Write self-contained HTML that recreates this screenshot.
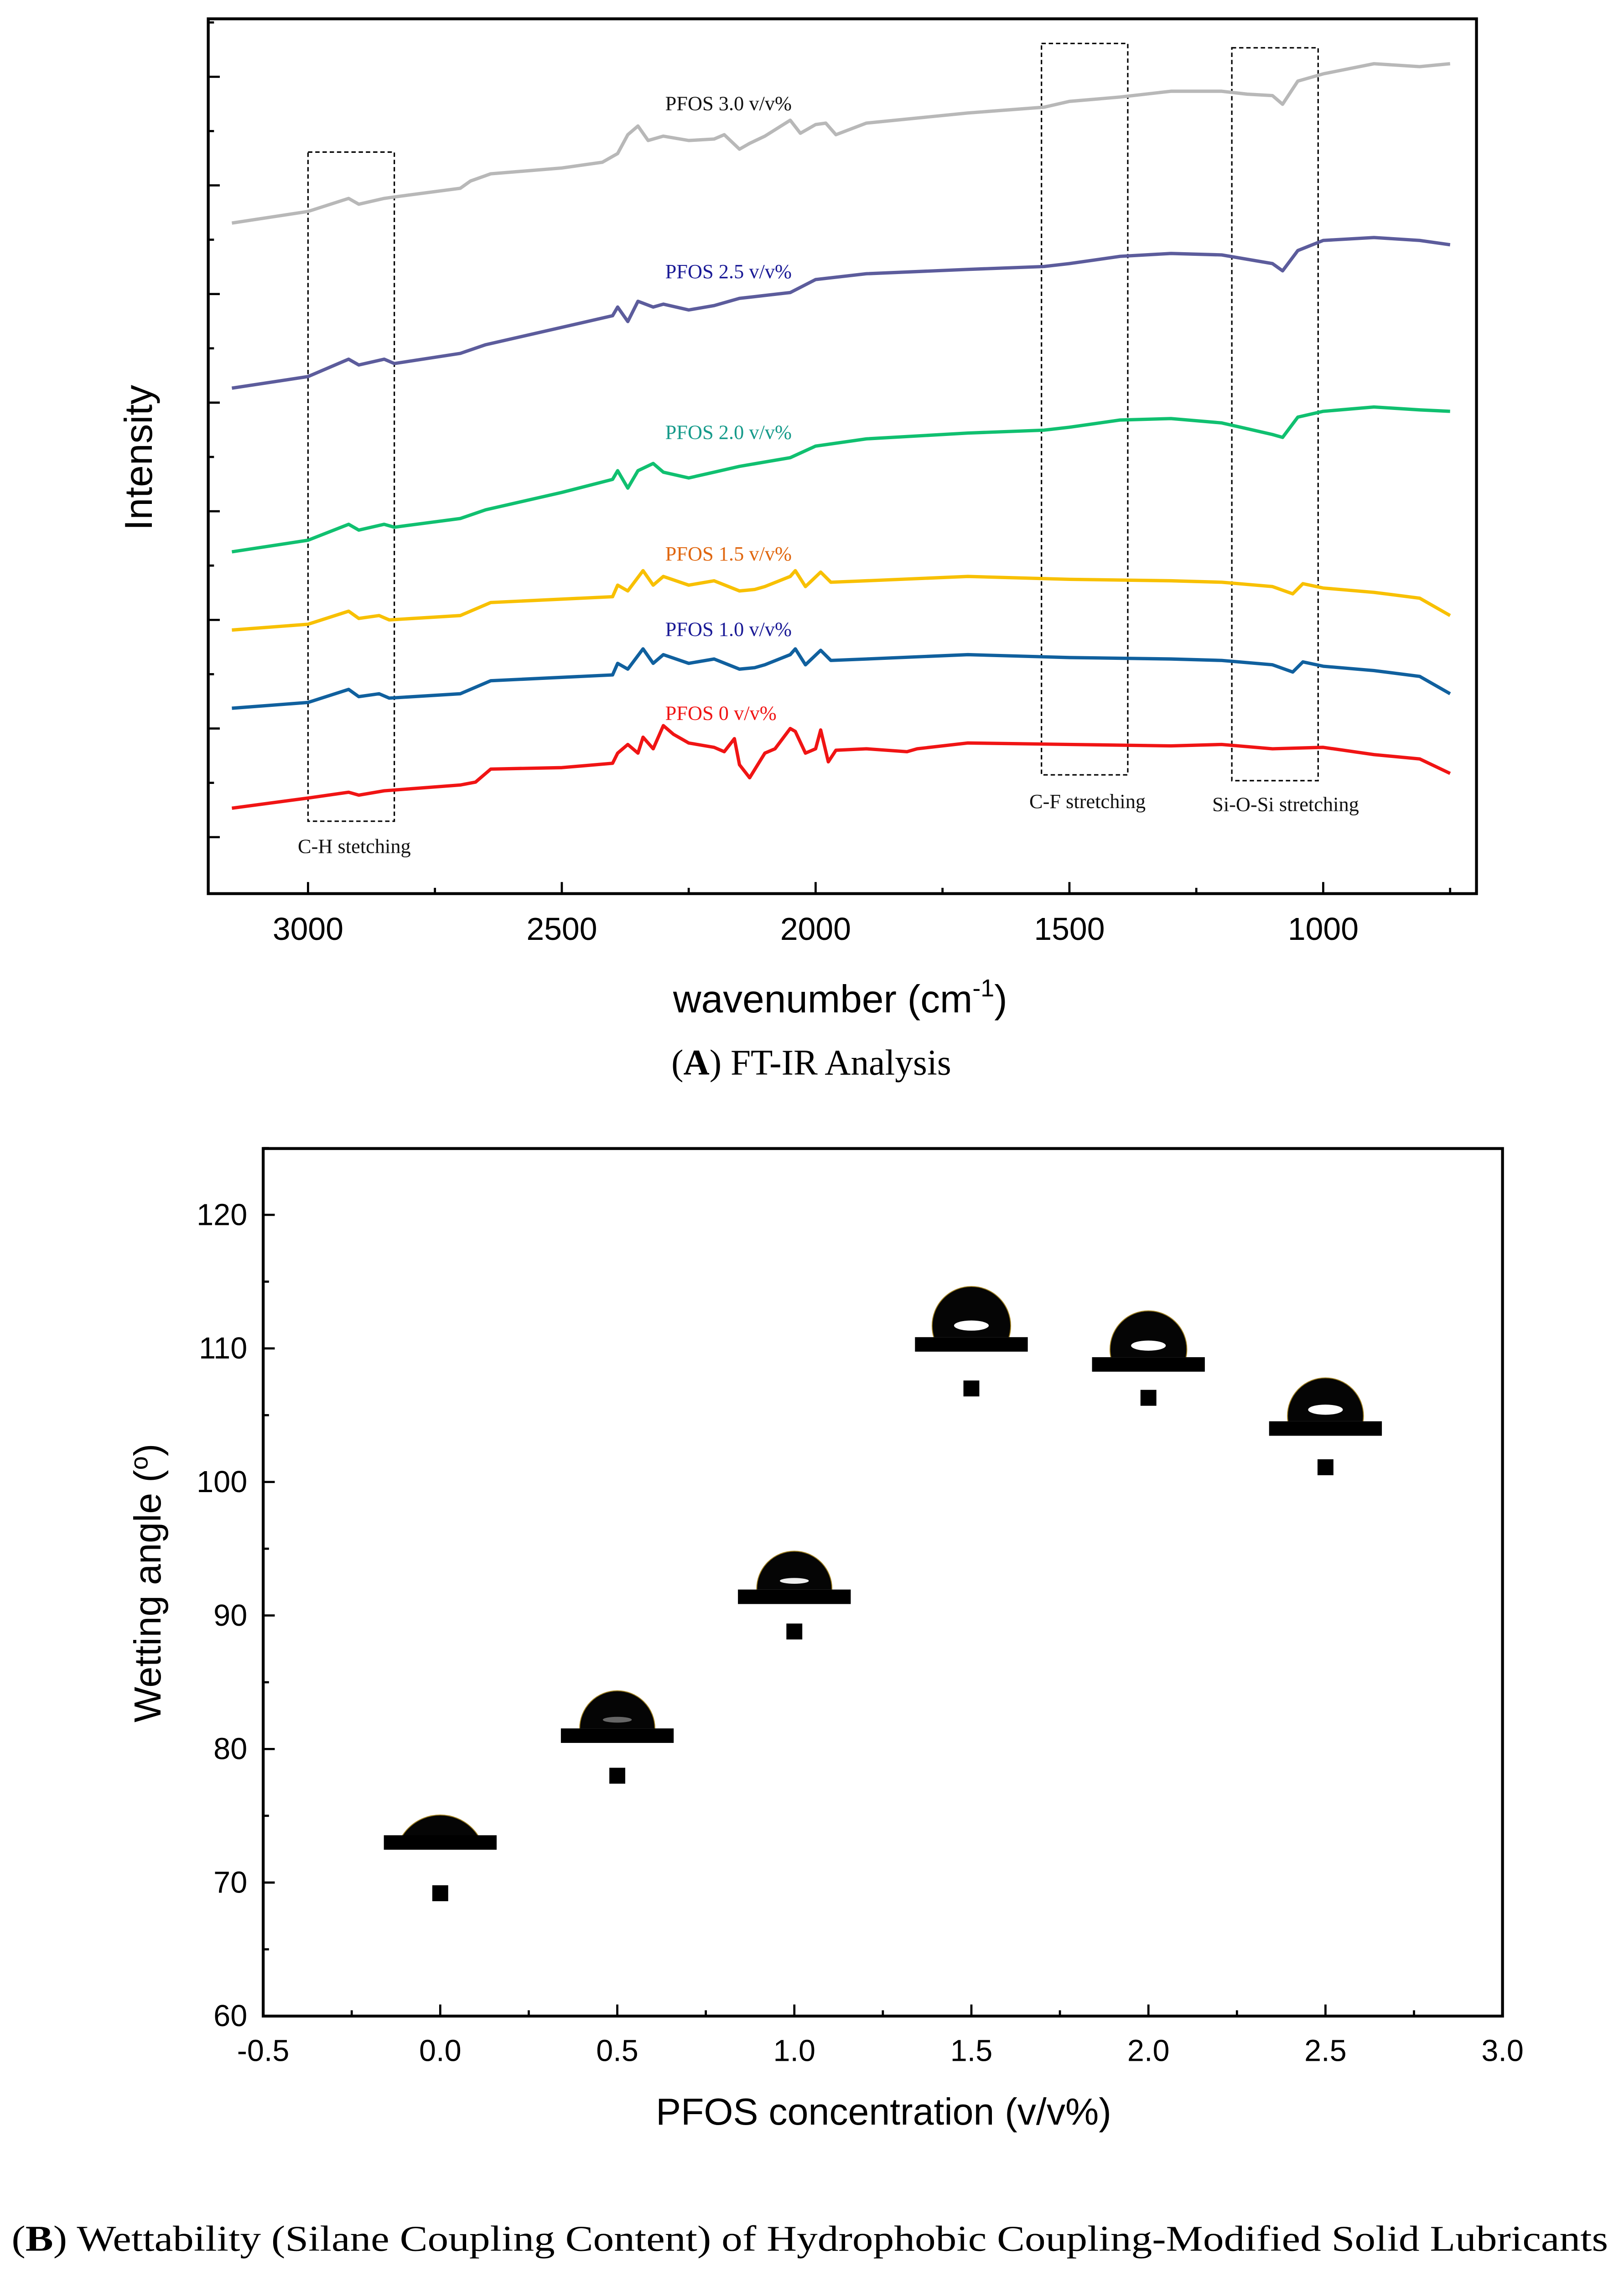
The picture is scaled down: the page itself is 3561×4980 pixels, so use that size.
<!DOCTYPE html>
<html><head><meta charset="utf-8"><style>
html,body{margin:0;padding:0;background:#fff;}
svg{display:block;}
</style></head><body>
<svg id="fig" width="3561" height="4980" viewBox="0 0 1123 1568" preserveAspectRatio="none" xmlns="http://www.w3.org/2000/svg">
<rect x="0" y="0" width="1123" height="1568" fill="#fff"/>
<g id="chartA"></g>
<g id="chartB"></g>
</svg>
<script>
// ---------- Chart A data (FT-IR) ----------
const xTicksA = [3000, 2500, 2000, 1500, 1000];
const xMinorA = [2750, 2250, 1750, 1250, 750];
const yTicksA = [42, 117, 192, 267, 342, 417, 492, 567];
const xRed = [3150,3000,2920,2900,2850,2700,2670,2640,2500,2400,2390,2370,2350,2340,2320,2300,2280,2250,2200,2180,2160,2150,2130,2100,2080,2050,2040,2020,2000,1990,1975,1960,1900,1820,1800,1700,1500,1300,1200,1100,1000,900,810,750];
const yRed = [62,69,73,71,74,78,80,89,90,93,100,106,100,111,103,119,113,107,104,101,110,92,83,100,103,117,115,100,103,116,94,102,103,101,103,107,106,105,106,103,104,99,96,86];
const xBlue = [3150,3000,2920,2900,2860,2840,2700,2640,2400,2390,2370,2340,2320,2300,2250,2200,2150,2120,2100,2050,2040,2020,1990,1970,1900,1700,1500,1300,1200,1100,1060,1040,1000,900,810,750];
const yBlue = [131,135,144,139,141,138,141,150,154,162,158,172,162,168,162,165,158,159,161,168,172,161,171,164,165,168,166,165,164,161,156,163,160,157,153,141];
const xYellow = [3150,3000,2920,2900,2860,2840,2700,2640,2400,2390,2370,2340,2320,2300,2250,2200,2150,2120,2100,2050,2040,2020,1990,1970,1900,1700,1500,1300,1200,1100,1060,1040,1000,900,810,750];
const yYellow = [185,189,198,193,195,192,195,204,208,216,212,226,216,222,216,219,212,213,215,222,226,215,225,218,219,222,220,219,218,215,210,217,214,211,207,195];
const xGreen = [3150,3000,2920,2900,2850,2830,2700,2650,2500,2400,2390,2370,2350,2320,2300,2250,2200,2150,2100,2050,2000,1900,1700,1550,1500,1400,1300,1200,1150,1100,1080,1050,1000,900,810,750];
const yGreen = [239,247,258,254,258,256,262,268,280,289,295,283,295,300,294,290,294,298,301,304,312,317,321,323,325,330,331,328,324,320,318,332,336,339,337,336];
const xPurple = [3150,3000,2920,2900,2850,2830,2700,2650,2500,2400,2390,2370,2350,2320,2300,2250,2200,2150,2100,2050,2000,1900,1700,1550,1500,1400,1300,1200,1150,1100,1080,1050,1000,900,810,750];
const yPurple = [352,360,372,368,372,369,376,382,394,402,408,398,412,408,410,406,409,414,416,418,427,431,434,436,438,443,445,444,441,438,433,447,454,456,454,451];
const xGray = [3150,3000,2920,2900,2850,2830,2700,2680,2640,2500,2420,2390,2370,2350,2330,2300,2250,2200,2180,2150,2130,2100,2050,2030,2000,1980,1960,1900,1700,1550,1500,1400,1300,1200,1150,1100,1080,1050,1000,900,810,750];
const yGray = [466,474,483,479,483,484,490,495,500,504,508,514,527,533,523,526,523,524,527,517,521,526,537,528,534,535,527,535,542,546,550,553,557,557,555,554,548,564,569,576,574,576];
const seriesLabels = ["PFOS 0 v/v%","PFOS 1.0 v/v%","PFOS 1.5 v/v%","PFOS 2.0 v/v%","PFOS 2.5 v/v%","PFOS 3.0 v/v%"];

// ---------- Chart B data (wetting angle) ----------
const concentrations = [0.0, 0.5, 1.0, 1.5, 2.0, 2.5];
const wettingAngles = [69.2, 78.0, 88.8, 107.0, 106.3, 101.1];
const xTicksB = [-0.5, 0.0, 0.5, 1.0, 1.5, 2.0, 2.5, 3.0];
const xTickLabelsB = ["-0.5","0.0","0.5","1.0","1.5","2.0","2.5","3.0"];
const yTicksB = [60, 70, 80, 90, 100, 110, 120];
const dropBarLevel = [73.0, 81.0, 91.4, 110.3, 108.8, 104.0];

const NS = "http://www.w3.org/2000/svg";
function mk(parent, tag, attrs, text){
  const e = document.createElementNS(NS, tag);
  for (const k in attrs) e.setAttribute(k, attrs[k]);
  if (text !== undefined) e.textContent = text;
  parent.appendChild(e);
  return e;
}
const SANS = '"Liberation Sans", Arial, sans-serif';
const SERIF = '"Liberation Serif", "Times New Roman", serif';

// ===== Chart A =====
const A = document.getElementById('chartA');
const AL = 144, AR = 1021, AT = 13, AB = 617;
function xA(w){ return 213 + (3000 - w) / 500 * 175.5; }
function yA(v){ return 620 - v; }

const boxes = [[3000,2830,105,567],[1555,1385,30,535],[1180,1010,33,539]];
const boxNames = ['ch-stretch-box','cf-stretch-box','siosi-stretch-box'];
boxes.forEach((b,i)=>{
  const r = mk(A,'rect',{x:xA(b[0]),y:b[2],width:xA(b[1])-xA(b[0]),height:b[3]-b[2],fill:'none',stroke:'#000','stroke-width':1,'stroke-dasharray':'3,2'});
  
  
});

const series = [
  [xRed,yRed,'#f01414','series-pfos-0'],
  [xBlue,yBlue,'#10609e','series-pfos-1-0'],
  [xYellow,yYellow,'#f8c000','series-pfos-1-5'],
  [xGreen,yGreen,'#10c070','series-pfos-2-0'],
  [xPurple,yPurple,'#5c5c9c','series-pfos-2-5'],
  [xGray,yGray,'#b8b8b8','series-pfos-3-0']
];
series.forEach(s=>{
  let d = '';
  s[0].forEach((w,i)=>{ d += (i?'L':'M') + xA(w).toFixed(2) + ' ' + yA(s[1][i]).toFixed(2); });
  const p = mk(A,'path',{d:d,fill:'none',stroke:s[2],'stroke-width':2.3,'stroke-linejoin':'round'});
  
  
});

const labelY = [497, 439, 387, 303, 192, 76];
const labelColors = ['#f01414','#1a1a96','#e0660e','#159a8a','#1a1a96','#111'];
seriesLabels.forEach((t,i)=>{
  const e = mk(A,'text',{x:460,y:labelY[i],'font-family':SERIF,'font-size':14,fill:labelColors[i]},t);
  
  
});
const notes = [['C-H stetching',245,589],['C-F stretching',752,558],['Si-O-Si stretching',889,560]];
notes.forEach(n=>{
  const e = mk(A,'text',{x:n[1],y:n[2],'font-family':SERIF,'font-size':14,'text-anchor':'middle',fill:'#111'},n[0]);
  
  
});

const fa = mk(A,'rect',{x:AL,y:AT,width:AR-AL,height:AB-AT,fill:'none',stroke:'#000','stroke-width':2});


xTicksA.forEach(w=>{
  const x = xA(w);
  mk(A,'line',{x1:x,y1:AB,x2:x,y2:AB-8,stroke:'#000','stroke-width':1.5});
  const t = mk(A,'text',{x:x,y:649,'font-family':SANS,'font-size':22,'text-anchor':'middle',fill:'#000'},String(w));
  
  
});
xMinorA.forEach(w=>{ const x = xA(w); mk(A,'line',{x1:x,y1:AB,x2:x,y2:AB-4,stroke:'#000','stroke-width':1.5}); });
yTicksA.forEach(v=>{
  const y = yA(v);
  mk(A,'line',{x1:AL,y1:y,x2:AL+8,y2:y,stroke:'#000','stroke-width':1.5});
  mk(A,'line',{x1:AL,y1:y-37.5,x2:AL+4,y2:y-37.5,stroke:'#000','stroke-width':1.5});
});
const yta = mk(A,'text',{x:0,y:0,transform:'translate(105,316) rotate(-90)','font-family':SANS,'font-size':27,'text-anchor':'middle',fill:'#000'},'Intensity');


const xta = mk(A,'text',{x:581,y:699,'font-family':SANS,'font-size':27,'text-anchor':'middle',fill:'#000'});


mk(xta,'tspan',{},'wavenumber (cm');
mk(xta,'tspan',{'font-size':17,dy:-11},'-1');
mk(xta,'tspan',{dy:11},')');
const capA = mk(A,'text',{x:561,y:742,'font-family':SERIF,'font-size':25,'text-anchor':'middle',fill:'#000'});


mk(capA,'tspan',{},'(');
mk(capA,'tspan',{'font-weight':'bold'},'A');
mk(capA,'tspan',{},') FT-IR Analysis');

// ===== Chart B =====
const B = document.getElementById('chartB');
const BL = 182, BR = 1039, BT = 793, BB = 1392;
function xB(c){ return BL + (c + 0.5) / 3.5 * (BR - BL); }
function yB(a){ return BB - (a - 60) * 9.22; }

const defs = mk(B,'defs',{});
concentrations.forEach((c,i)=>{
  const cx = xB(c), barY = yB(dropBarLevel[i]);
  const barTop = barY - 5;
  const h = [14, 26, 26.5, 35, 32, 30][i];
  const b = 26;
  const R = (b*b + h*h) / (2*h);
  const cy = barTop - h + R;
  const clip = mk(defs,'clipPath',{id:'clip'+i});
  mk(clip,'rect',{x:cx-60,y:barTop-60,width:120,height:60});
  const g = mk(B,'g',{});
  
  
  mk(g,'circle',{cx:cx,cy:cy,r:R,fill:'#050505',stroke:'#a08020','stroke-width':0.6,'clip-path':'url(#clip'+i+')'});
  mk(g,'rect',{x:cx-39,y:barTop,width:78,height:10,fill:'#000'});
  if (i >= 3) mk(g,'ellipse',{cx:cx,cy:barTop-8,rx:12,ry:3.5,fill:'#fff'});
  else if (i >= 1) mk(g,'ellipse',{cx:cx,cy:barTop-6,rx:10,ry:2,fill:i===2?'#eee':'#666'});
});

concentrations.forEach((c,i)=>{
  const p = mk(B,'rect',{x:xB(c)-5.5,y:yB(wettingAngles[i])-5.5,width:11,height:11,fill:'#000'});
  
  
});

const fb = mk(B,'rect',{x:BL,y:BT,width:BR-BL,height:BB-BT,fill:'none',stroke:'#000','stroke-width':2});


xTicksB.forEach((c,i)=>{
  const x = xB(c);
  mk(B,'line',{x1:x,y1:BB,x2:x,y2:BB-8,stroke:'#000','stroke-width':1.5});
  if (i < xTicksB.length-1) { const xm = xB(c+0.25); mk(B,'line',{x1:xm,y1:BB,x2:xm,y2:BB-4,stroke:'#000','stroke-width':1.5}); }
  const t = mk(B,'text',{x:x,y:1423,'font-family':SANS,'font-size':21,'text-anchor':'middle',fill:'#000'},xTickLabelsB[i]);
  
  
});
yTicksB.forEach(a=>{
  const y = yB(a);
  mk(B,'line',{x1:BL,y1:y,x2:BL+8,y2:y,stroke:'#000','stroke-width':1.5});
  const ym = yB(a+5); mk(B,'line',{x1:BL,y1:ym,x2:BL+4,y2:ym,stroke:'#000','stroke-width':1.5});
  const t = mk(B,'text',{x:171,y:y+7,'font-family':SANS,'font-size':21,'text-anchor':'end',fill:'#000'},String(a));
  
  
});
const ytb = mk(B,'text',{x:0,y:0,transform:'translate(111,1093) rotate(-90)','font-family':SANS,'font-size':26,'text-anchor':'middle',fill:'#000'});


mk(ytb,'tspan',{},'Wetting angle (');
mk(ytb,'tspan',{'font-size':17,dy:-9},'o');
mk(ytb,'tspan',{dy:9},')');
const xtb = mk(B,'text',{x:611,y:1467,'font-family':SANS,'font-size':26,'text-anchor':'middle',fill:'#000'},'PFOS concentration (v/v%)');


const capB = mk(B,'text',{x:8,y:1554,'font-family':SERIF,'font-size':25,fill:'#000',textLength:1104,lengthAdjust:'spacingAndGlyphs'});


mk(capB,'tspan',{},'(');
mk(capB,'tspan',{'font-weight':'bold'},'B');
mk(capB,'tspan',{},') Wettability (Silane Coupling Content) of Hydrophobic Coupling-Modified Solid Lubricants');
</script>
</body></html>
